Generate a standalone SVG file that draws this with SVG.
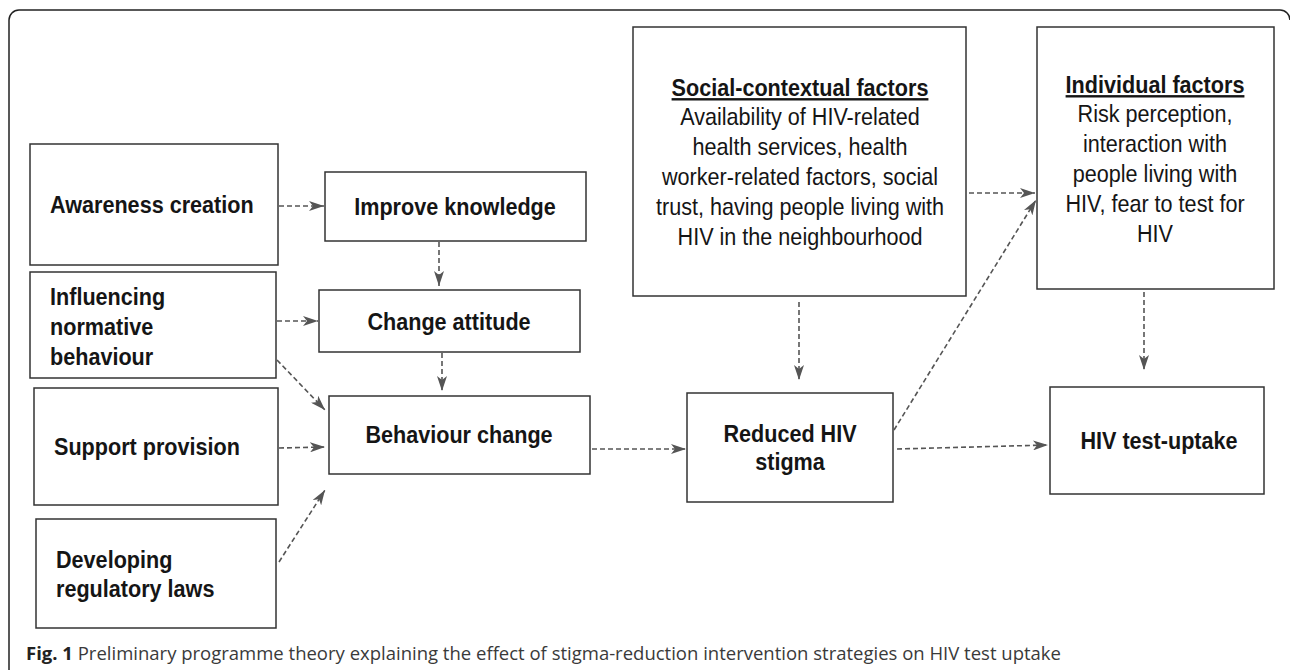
<svg xmlns="http://www.w3.org/2000/svg" width="1290" height="670" viewBox="0 0 1290 670">
<style>
.box{fill:#fff;stroke:#333;stroke-width:1.5}
.lb{font-family:"Liberation Sans",Arial,sans-serif;font-weight:bold;font-size:24px;fill:#151515}
.rg{font-family:"Liberation Sans",Arial,sans-serif;font-size:24px;fill:#151515}
.c{text-anchor:middle}
.u{text-decoration:underline}
.conn{fill:none;stroke:#555;stroke-width:1.6;stroke-dasharray:5 3}
.cap{font-family:"Open Sans","Noto Sans",sans-serif;font-size:18.5px;fill:#3a3a3a}
</style>
<defs>
<marker id="ah" viewBox="0 0 15 10" markerWidth="15" markerHeight="10" refX="15" refY="5" orient="auto" markerUnits="userSpaceOnUse">
<path d="M0,0 L15,5 L0,10 L4,5 Z" fill="#555"/>
</marker>
</defs>
<rect width="1290" height="670" fill="#fff"/>
<path d="M9,672 V20 A10,10 0 0 1 19,10 H1280 A10,10 0 0 1 1290,20" fill="none" stroke="#222" stroke-width="1.5"/>

<g id="awareness"><rect class="box" x="30" y="144" width="248" height="121"/>
<text class="lb" transform="translate(50,213) scale(0.9,1)">Awareness creation</text></g>
<g id="influencing"><rect class="box" x="30" y="272" width="246" height="106"/>
<text class="lb" transform="translate(50,305) scale(0.9,1)">Influencing</text>
<text class="lb" transform="translate(50,335) scale(0.9,1)">normative</text>
<text class="lb" transform="translate(50,365) scale(0.9,1)">behaviour</text></g>
<g id="support"><rect class="box" x="34" y="388" width="244" height="117"/>
<text class="lb" transform="translate(54,455) scale(0.9,1)">Support provision</text></g>
<g id="developing"><rect class="box" x="36" y="519" width="240" height="109"/>
<text class="lb" transform="translate(56,568) scale(0.9,1)">Developing</text>
<text class="lb" transform="translate(56,597) scale(0.9,1)">regulatory laws</text></g>
<g id="knowledge"><rect class="box" x="325" y="172" width="261" height="69"/>
<text class="lb c" transform="translate(455,215) scale(0.9,1)">Improve knowledge</text></g>
<g id="attitude"><rect class="box" x="319" y="290" width="261" height="62"/>
<text class="lb c" transform="translate(449,330) scale(0.9,1)">Change attitude</text></g>
<g id="behaviour"><rect class="box" x="329" y="396" width="261" height="78"/>
<text class="lb c" transform="translate(459,443) scale(0.9,1)">Behaviour change</text></g>
<g id="social"><rect class="box" x="633" y="27" width="333" height="269"/>
<text class="lb c u" transform="translate(800,96) scale(0.9,1)">Social-contextual factors</text>
<text class="rg c" transform="translate(800,125) scale(0.9,1)">Availability of HIV-related</text>
<text class="rg c" transform="translate(800,155) scale(0.9,1)">health services, health</text>
<text class="rg c" transform="translate(800,185) scale(0.9,1)">worker-related factors, social</text>
<text class="rg c" transform="translate(800,215) scale(0.9,1)">trust, having people living with</text>
<text class="rg c" transform="translate(800,245) scale(0.9,1)">HIV in the neighbourhood</text></g>
<g id="reduced"><rect class="box" x="687" y="393" width="206" height="109"/>
<text class="lb c" transform="translate(790,442) scale(0.9,1)">Reduced HIV</text>
<text class="lb c" transform="translate(790,470) scale(0.9,1)">stigma</text></g>
<g id="individual"><rect class="box" x="1037" y="27" width="237" height="262"/>
<text class="lb c u" transform="translate(1155,93) scale(0.9,1)">Individual factors</text>
<text class="rg c" transform="translate(1155,122) scale(0.9,1)">Risk perception,</text>
<text class="rg c" transform="translate(1155,152) scale(0.9,1)">interaction with</text>
<text class="rg c" transform="translate(1155,182) scale(0.9,1)">people living with</text>
<text class="rg c" transform="translate(1155,212) scale(0.9,1)">HIV, fear to test for</text>
<text class="rg c" transform="translate(1155,242) scale(0.9,1)">HIV</text></g>
<g id="uptake"><rect class="box" x="1050" y="387" width="214" height="107"/>
<text class="lb c" transform="translate(1159,449) scale(0.9,1)">HIV test-uptake</text></g>

<g id="connectors">
<line class="conn" x1="279" y1="206" x2="324" y2="206" marker-end="url(#ah)"/>
<line class="conn" x1="439" y1="242" x2="439" y2="286" marker-end="url(#ah)"/>
<line class="conn" x1="277" y1="321" x2="318" y2="321" marker-end="url(#ah)"/>
<line class="conn" x1="277" y1="360" x2="325" y2="410" marker-end="url(#ah)"/>
<line class="conn" x1="442" y1="353" x2="442" y2="391" marker-end="url(#ah)"/>
<line class="conn" x1="279" y1="448" x2="325" y2="447" marker-end="url(#ah)"/>
<line class="conn" x1="279" y1="562" x2="325" y2="490" marker-end="url(#ah)"/>
<line class="conn" x1="592" y1="449" x2="686" y2="449" marker-end="url(#ah)"/>
<line class="conn" x1="799" y1="302" x2="799" y2="380" marker-end="url(#ah)"/>
<line class="conn" x1="969" y1="193" x2="1035" y2="193" marker-end="url(#ah)"/>
<line class="conn" x1="894" y1="430" x2="1036" y2="200" marker-end="url(#ah)"/>
<line class="conn" x1="1144" y1="292" x2="1144" y2="370" marker-end="url(#ah)"/>
<line class="conn" x1="897" y1="449" x2="1048" y2="445" marker-end="url(#ah)"/>
</g>

<text class="cap" x="26" y="660"><tspan font-weight="bold" fill="#222">Fig. 1</tspan> Preliminary programme theory explaining the effect of stigma-reduction intervention strategies on HIV test uptake</text>
</svg>
